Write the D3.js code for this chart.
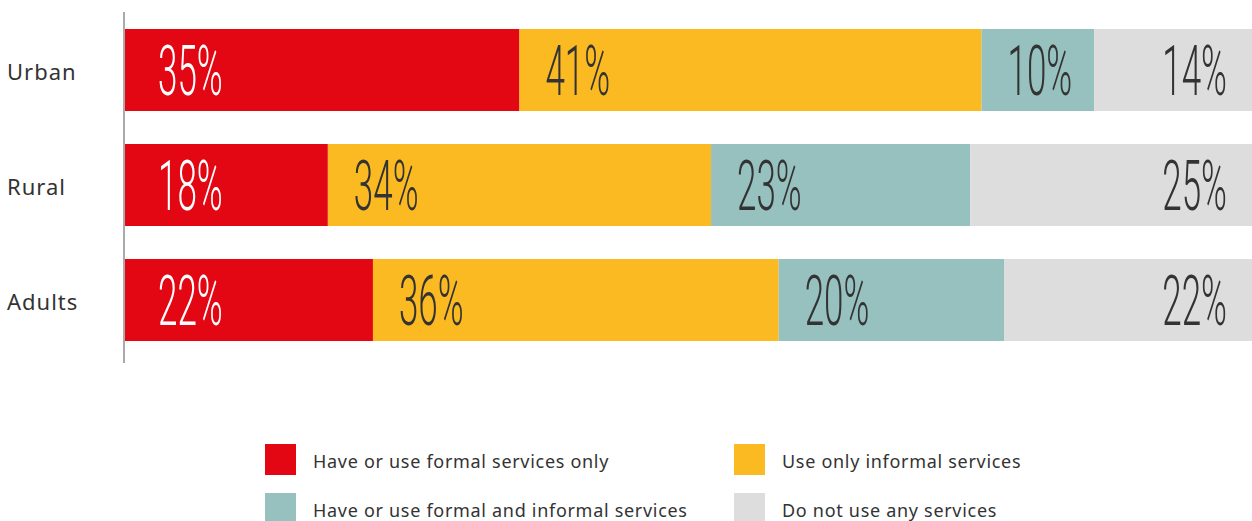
<!DOCTYPE html>
<html>
<head>
<meta charset="utf-8">
<script src="https://cdn.jsdelivr.net/npm/d3@7"></script>
<style>
  body { margin: 0; background: #fff; }
  svg { display: block; }
</style>
</head>
<body>
<div id="chart"></div>
<script>
// Data
const groups = ['Urban', 'Rural', 'Adults'];
const seriesNames = [
    'Have or use formal services only',
    'Use only informal services',
    'Have or use formal and informal services',
    'Do not use any services'
];
const seriesKeys = ['formal', 'informal', 'both', 'none'];
const formalOnly = [35, 18, 22];
const informalOnly = [41, 34, 36];
const formalAndInformal = [10, 23, 20];
const noServices = [14, 25, 22];
const colors = ['#e30613', '#fbba22', '#96c1be', '#dddddd'];
const labelColors = ['#ffffff', '#333333', '#333333', '#333333'];

const rows = groups.map((g, i) => ({
    group: g,
    formal: formalOnly[i],
    informal: informalOnly[i],
    both: formalAndInformal[i],
    none: noServices[i]
}));

const W = 1252, H = 521;
const margin = { top: 12, left: 125, right: 0 };
const textFont = '"Noto Sans", "Open Sans", sans-serif';

const svg = d3.select('#chart')
    .append('svg')
    .attr('width', W)
    .attr('height', H);

const x = d3.scaleLinear()
    .domain([0, 100])
    .range([margin.left, W - margin.right]);

const y = d3.scaleBand()
    .domain(groups)
    .range([12.5, 357.5])
    .paddingInner(0.287)
    .paddingOuter(0.1435);

const stack = d3.stack().keys(seriesKeys);
const layers = stack(rows);

// bars
layers.forEach((layer, li) => {
    const g = svg.append('g');
    g.selectAll('rect')
        .data(layer)
        .join('rect')
        .attr('x', d => x(d[0]))
        .attr('y', d => y(d.data.group))
        .attr('width', d => x(d[1]) - x(d[0]))
        .attr('height', y.bandwidth())
        .attr('fill', colors[li]);

    // value labels, condensed by squeezing horizontally
    g.selectAll('text')
        .data(layer)
        .join('text')
        .attr('transform', d => {
            const last = li === layers.length - 1;
            const tx = last ? x(d[1]) - 25 : x(d[0]) + (li === 0 ? 33 : 26);
            const ty = y(d.data.group) + y.bandwidth() / 2 + 25;
            return `translate(${tx},${ty}) scale(0.5,1)`;
        })
        .attr('text-anchor', li === layers.length - 1 ? 'end' : 'start')
        .attr('font-family', 'Roboto, sans-serif')
        .attr('font-weight', 300)
        .attr('font-size', '70px')
        .attr('fill', labelColors[li])
        .text(d => `${d[1] - d[0]}%`);
});

// left axis line
svg.append('line')
    .attr('x1', margin.left - 1).attr('x2', margin.left - 1)
    .attr('y1', margin.top).attr('y2', 363)
    .attr('stroke', '#aaaaaa')
    .attr('stroke-width', 2);

// category labels
svg.append('g')
    .selectAll('text')
    .data(groups)
    .join('text')
    .attr('x', 7)
    .attr('y', d => y(d) + y.bandwidth() / 2 + 2)
    .attr('dy', '0.35em')
    .attr('font-family', textFont)
    .attr('font-size', '22px')
    .attr('letter-spacing', '1px')
    .attr('fill', '#333333')
    .text(d => d);

// legend
const legendPos = [[265, 444], [734, 444], [265, 493], [734, 493]];
const legend = svg.append('g')
    .selectAll('g')
    .data(seriesNames)
    .join('g')
    .attr('transform', (d, i) => `translate(${legendPos[i][0]},${legendPos[i][1]})`);

legend.append('rect')
    .attr('width', 31)
    .attr('height', 31)
    .attr('fill', (d, i) => colors[i]);

legend.append('text')
    .attr('x', 48)
    .attr('y', 18)
    .attr('dy', '0.35em')
    .attr('font-family', textFont)
    .attr('font-size', '18px')
    .attr('letter-spacing', '0.7px')
    .attr('fill', '#333333')
    .text(d => d);
</script>
</body>
</html>
